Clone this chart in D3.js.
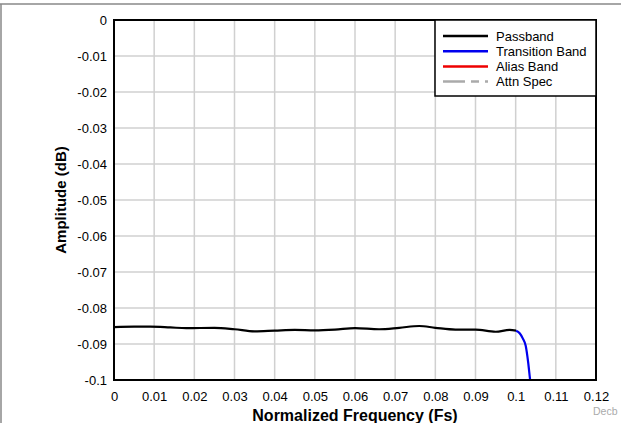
<!DOCTYPE html>
<html><head><meta charset="utf-8">
<script src="https://cdn.jsdelivr.net/npm/d3@7/dist/d3.min.js"></script>
<style>body{margin:0;background:#fff;}svg{display:block;font-family:"Liberation Sans",Arial,sans-serif;}</style>
</head><body><svg id="c" width="621" height="423"></svg>
<script>
// ---- data ----
const xTicks = [0,0.01,0.02,0.03,0.04,0.05,0.06,0.07,0.08,0.09,0.1,0.11,0.12];
const xTickLabels = ["0","0.01","0.02","0.03","0.04","0.05","0.06","0.07","0.08","0.09","0.1","0.11","0.12"];
const yTicks = [0,-0.01,-0.02,-0.03,-0.04,-0.05,-0.06,-0.07,-0.08,-0.09,-0.1];
const yTickLabels = ["0","-0.01","-0.02","-0.03","-0.04","-0.05","-0.06","-0.07","-0.08","-0.09","-0.1"];
const passFreq = [0,0.005,0.009,0.014,0.018,0.025,0.030,0.035,0.040,0.045,0.050,0.055,0.060,0.066,0.071,0.076,0.080,0.085,0.090,0.095,0.0985,0.1001];
const passAmp  = [-0.0853,-0.0852,-0.0852,-0.0854,-0.0856,-0.0855,-0.0859,-0.0865,-0.0863,-0.0861,-0.0862,-0.0860,-0.0856,-0.0859,-0.0855,-0.0850,-0.0855,-0.0860,-0.0860,-0.0866,-0.0861,-0.0863];
const transFreq = [0.1001,0.1010,0.1018,0.1025,0.1031,0.1036,0.1041];
const transAmp  = [-0.0863,-0.0870,-0.0885,-0.0905,-0.0950,-0.1000,-0.1040];
const aliasFreq = [0.1041,0.115,0.12];
const aliasAmp  = [-0.15,-60,-80];
const attnFreq = [0.11,0.12];
const attnAmp  = [-80,-80];
const legendNames = ["Passband","Transition Band","Alias Band","Attn Spec"];
const legendColors = ["#000000","#0000ee","#ee0000","#aaaaaa"];

// ---- layout ----
const svg = d3.select("#c");
const L=114, R=596, T=20, B=380;
const x = d3.scaleLinear().domain([0,0.12]).range([L,R]);
const y = d3.scaleLinear().domain([-0.1,0]).range([B,T]);

// outer frame
svg.append("line").attr("x1",0).attr("x2",621).attr("y1",4).attr("y2",4).attr("stroke","#888").attr("stroke-width",1.5);
svg.append("line").attr("x1",1).attr("x2",1).attr("y1",4).attr("y2",423).attr("stroke","#888").attr("stroke-width",1.5);

// grid
const grid = svg.append("g");
grid.selectAll(".gx").data(xTicks.slice(1,-1)).join("line")
  .attr("x1",d=>x(d)).attr("x2",d=>x(d)).attr("y1",T).attr("y2",B)
  .attr("stroke","#d0d0d0").attr("stroke-width",1.5);
grid.selectAll(".gy").data(yTicks.slice(1,-1)).join("line")
  .attr("x1",L).attr("x2",R).attr("y1",d=>y(d)).attr("y2",d=>y(d))
  .attr("stroke","#d0d0d0").attr("stroke-width",1.5);

// axes (labels only)
const xAxis = d3.axisBottom(x).tickValues(xTicks).tickSize(0).tickPadding(12)
  .tickFormat((d,i)=>xTickLabels[i]);
const gx = svg.append("g").attr("transform",`translate(0,${B})`).call(xAxis);
gx.select(".domain").remove();
gx.selectAll("text").attr("font-size",13).attr("fill","#000").attr("font-family","Liberation Sans, Arial, sans-serif");

const yAxis = d3.axisLeft(y).tickValues(yTicks).tickSize(0).tickPadding(7)
  .tickFormat((d,i)=>yTickLabels[i]);
const gy = svg.append("g").attr("transform",`translate(${L},0)`).call(yAxis);
gy.select(".domain").remove();
gy.selectAll("text").attr("font-size",13).attr("fill","#000").attr("font-family","Liberation Sans, Arial, sans-serif");

// clip
svg.append("clipPath").attr("id","clip").append("rect").attr("x",L).attr("y",T).attr("width",R-L).attr("height",B-T);

const line = d3.line().x(d=>x(d[0])).y(d=>y(d[1])).curve(d3.curveMonotoneX);
const plot = svg.append("g").attr("clip-path","url(#clip)");
plot.append("path").datum(attnFreq.map((f,i)=>[f,attnAmp[i]])).attr("d",line)
  .attr("fill","none").attr("stroke",legendColors[3]).attr("stroke-width",2).attr("stroke-dasharray","8,5");
plot.append("path").datum(aliasFreq.map((f,i)=>[f,aliasAmp[i]])).attr("d",line)
  .attr("fill","none").attr("stroke",legendColors[2]).attr("stroke-width",2.2);
plot.append("path").datum(passFreq.map((f,i)=>[f,passAmp[i]])).attr("d",line)
  .attr("fill","none").attr("stroke",legendColors[0]).attr("stroke-width",2.2);
plot.append("path").datum(transFreq.map((f,i)=>[f,transAmp[i]])).attr("d",line)
  .attr("fill","none").attr("stroke",legendColors[1]).attr("stroke-width",2.2);

// plot border
svg.append("rect").attr("x",L).attr("y",T).attr("width",R-L).attr("height",B-T)
  .attr("fill","none").attr("stroke","#000").attr("stroke-width",2);

// legend
const lg = svg.append("g");
lg.append("rect").attr("x",435).attr("y",T).attr("width",R-435).attr("height",76)
  .attr("fill","#fff").attr("stroke","#000").attr("stroke-width",1.5);
legendNames.forEach((n,i)=>{
  const yy = 36 + i*15.2;
  const ln = lg.append("line").attr("x1",443).attr("x2",488).attr("y1",yy).attr("y2",yy)
    .attr("stroke",legendColors[i]).attr("stroke-width",2.5);
  if(i===3) ln.attr("stroke-dasharray","22,6,8,6,6");
  lg.append("text").attr("x",496).attr("y",yy+4.5).attr("font-size",13).text(n);
});

// axis titles
svg.append("text").attr("x",(L+R)/2).attr("y",421).attr("text-anchor","middle")
  .attr("font-size",16).attr("font-weight","bold").text("Normalized Frequency (Fs)");
svg.append("text").attr("transform",`translate(66,${(T+B)/2}) rotate(-90)`).attr("text-anchor","middle")
  .attr("font-size",15).attr("font-weight","bold").text("Amplitude (dB)");

// watermark
svg.append("text").attr("x",593).attr("y",415).attr("font-size",10.5).attr("fill","#aaa").text("Decb");
</script></body></html>
